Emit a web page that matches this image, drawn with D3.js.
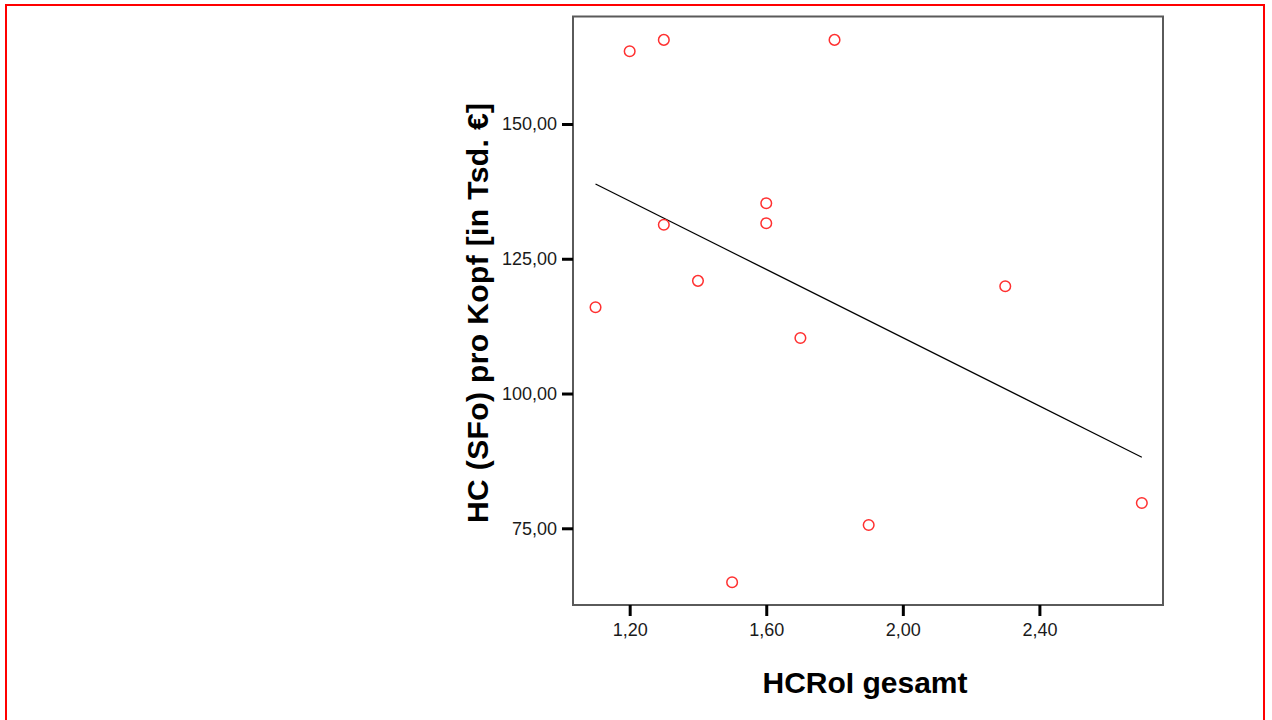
<!DOCTYPE html>
<html>
<head>
<meta charset="utf-8">
<script src="https://cdn.jsdelivr.net/npm/d3@7"></script>
<style>
  body { margin: 0; background: #fff; }
  svg { display: block; }
  .tick text { font-family: "Liberation Sans", Arial, sans-serif; font-size: 18px; fill: #1a1a1a; }
  .title { font-family: "Liberation Sans", Arial, sans-serif; font-size: 30px; font-weight: bold; fill: #000; }
</style>
</head>
<body>
<svg id="chart" width="1272" height="720"></svg>
<script>
// HCRoI gesamt (x) vs. HC (SFo) pro Kopf (y)
const hcroi = [1.20, 1.30, 1.80, 1.60, 1.60, 1.30, 1.10, 1.40, 1.70, 2.30, 1.90, 1.50, 2.70];
const hcKopf = [163.5, 165.6, 165.6, 135.3, 131.6, 131.3, 116.0, 120.9, 110.3, 119.9, 75.6, 65.0, 79.7];

const xTicks = [1.2, 1.6, 2.0, 2.4];
const yTicks = [75, 100, 125, 150];

const xTitle = "HCRoI gesamt";
const yTitle = "HC (SFo) pro Kopf [in Tsd. €]";

const SIZES = { left: 573, top: 16.5, right: 1163, bottom: 605 };

const de = d3.formatLocale({ decimal: ",", thousands: ".", grouping: [3], currency: ["", " €"] });
const fmt = de.format(".2f");

const svg = d3.select("#chart");

// red outer frame
svg.append("rect")
  .attr("x", 6).attr("y", 5)
  .attr("width", 1258).attr("height", 740)
  .attr("fill", "none").attr("stroke", "#ff0000").attr("stroke-width", 2);

const x = d3.scaleLinear().domain([1.034, 2.762]).range([SIZES.left, SIZES.right]);
const y = d3.scaleLinear().domain([60.77, 169.94]).range([SIZES.bottom, SIZES.top]);

// plot frame
svg.append("rect")
  .attr("x", SIZES.left).attr("y", SIZES.top)
  .attr("width", SIZES.right - SIZES.left).attr("height", SIZES.bottom - SIZES.top)
  .attr("fill", "none").attr("stroke", "#5a5a5a").attr("stroke-width", 2);

const xAxis = svg.append("g")
  .attr("transform", "translate(0," + SIZES.bottom + ")")
  .call(d3.axisBottom(x).tickValues(xTicks).tickFormat(fmt).tickSize(11).tickPadding(7));
const yAxis = svg.append("g")
  .attr("transform", "translate(" + SIZES.left + ",0)")
  .call(d3.axisLeft(y).tickValues(yTicks).tickFormat(fmt).tickSize(11).tickPadding(5));

[xAxis, yAxis].forEach(g => {
  g.select(".domain").remove();
  g.selectAll(".tick line").attr("stroke", "#000").attr("stroke-width", 3);
  g.selectAll(".tick text").attr("font-family", null).attr("font-size", null);
});

// least squares fit line
const mx = d3.mean(hcroi), my = d3.mean(hcKopf);
const sxy = d3.sum(hcroi, (v, i) => (v - mx) * (hcKopf[i] - my));
const sxx = d3.sum(hcroi, v => (v - mx) * (v - mx));
const slope = sxy / sxx, icpt = my - slope * mx;
const [x0, x1] = d3.extent(hcroi);
svg.append("line")
  .attr("x1", x(x0)).attr("y1", y(icpt + slope * x0))
  .attr("x2", x(x1)).attr("y2", y(icpt + slope * x1))
  .attr("stroke", "#000").attr("stroke-width", 1.2);

svg.append("g").selectAll("circle")
  .data(hcroi)
  .join("circle")
  .attr("cx", d => x(d))
  .attr("cy", (d, i) => y(hcKopf[i]))
  .attr("r", 5.3)
  .attr("fill", "none")
  .attr("stroke", "#ff3030")
  .attr("stroke-width", 1.5);

svg.append("text").attr("class", "title")
  .attr("x", 865).attr("y", 693)
  .attr("text-anchor", "middle")
  .text(xTitle);

svg.append("text").attr("class", "title")
  .attr("transform", "translate(488,313) rotate(-90)")
  .attr("text-anchor", "middle")
  .attr("textLength", 420)
  .text(yTitle);
</script>
</body>
</html>
